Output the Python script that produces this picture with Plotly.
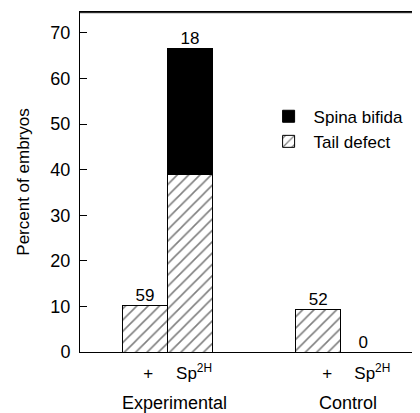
import plotly.graph_objects as go

# Data
x_pos = [0, 1, 3.85, 4.85]
tick_pos = [0.07, 1.09, 4.05, 5.05]
tick_labels = ["+", "Sp<sup>2H</sup>", "+", "Sp<sup>2H</sup>"]
tail_defect = [10.2, 38.9, 9.4, 0]
spina_bifida = [0, 27.8, 0, 0]
n_labels = ["59", "18", "52", "0"]
groups = ["Experimental", "Control"]
group_x = [0.65, 4.5]

FONT = "Liberation Sans, Arial, sans-serif"
totals = [a + b for a, b in zip(tail_defect, spina_bifida)]

fig = go.Figure()
fig.add_trace(go.Bar(
    x=x_pos, y=tail_defect, name="Tail defect", width=1,
    marker=dict(color="white", line=dict(color="black", width=1),
                pattern=dict(shape="/", fgcolor="black", bgcolor="white", size=8, solidity=0.2)),
))
fig.add_trace(go.Bar(
    x=x_pos, y=spina_bifida, name="Spina bifida", width=1,
    marker=dict(color="black", line=dict(color="black", width=1)),
))
fig.add_trace(go.Scatter(
    x=x_pos, y=totals, mode="text", text=n_labels, textposition="top center",
    textfont=dict(size=17, color="black", family=FONT), showlegend=False, hoverinfo="skip",
))

for g, gx in zip(groups, group_x):
    fig.add_annotation(x=gx, y=-0.15, xref="x", yref="paper", text=g, showarrow=False,
                       font=dict(size=18, color="black", family=FONT), yanchor="middle")

# frame (top border)
fig.add_shape(type="line", xref="paper", yref="paper", x0=0, x1=1, y0=0.998, y1=0.998,
              line=dict(color="black", width=1), layer="above")

fig.update_layout(
    width=412, height=405, barmode="stack",
    margin=dict(l=72, r=0, t=4, b=61),
    paper_bgcolor="white", plot_bgcolor="white",
    font=dict(family=FONT, color="black", size=17),
    legend=dict(x=0.54, y=0.745, xanchor="left", yanchor="top", traceorder="reversed",
                font=dict(size=17), bgcolor="rgba(0,0,0,0)", itemwidth=40, tracegroupgap=0),
    xaxis=dict(range=[-1.444, 6.11], tickvals=tick_pos, ticktext=tick_labels, showgrid=False,
               zeroline=False, showline=True, linecolor="black", linewidth=1, mirror=True,
               ticks="", tickfont=dict(size=17), ticklabelstandoff=6),
    yaxis=dict(range=[0, 74.6], tickvals=[0, 10, 20, 30, 40, 50, 60, 70], showgrid=False,
               zeroline=False, showline=True, linecolor="black", linewidth=1, mirror="ticks",
               ticks="inside", ticklen=7, tickcolor="black", tickfont=dict(size=18),
               ticklabelstandoff=5,
               title=dict(text="Percent of embryos", font=dict(size=17), standoff=16)),
)

fig.write_html("out.html")
